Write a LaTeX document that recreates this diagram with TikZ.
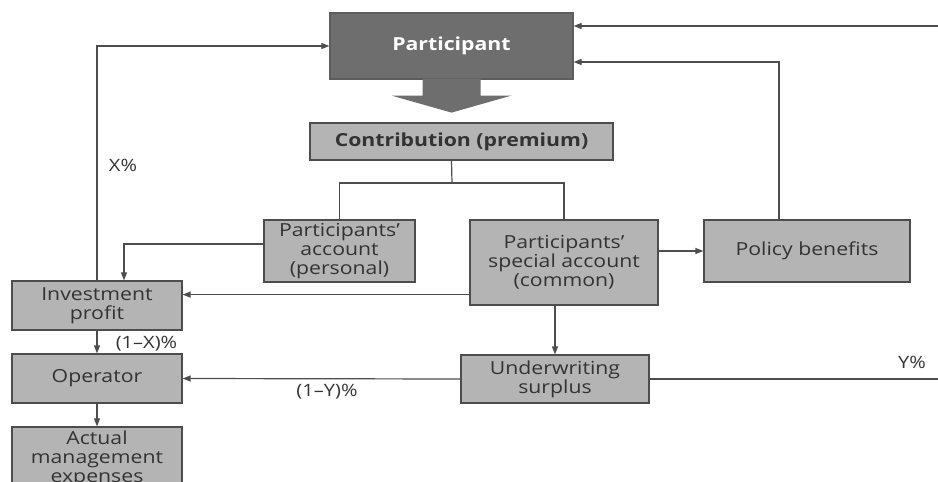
\documentclass[tikz,border=0pt]{standalone}
\usepackage{fontspec}
\setmainfont{Open Sans}[FakeStretch=1.18]
\usetikzlibrary{positioning, arrows.meta}

\definecolor{boxgray}{HTML}{B4B4B4}
\definecolor{darkbox}{HTML}{6E6E6E}
\definecolor{edgegray}{HTML}{4D4D4D}
\definecolor{inkgray}{HTML}{333333}

\tikzset{
  box/.style={draw=edgegray, fill=boxgray, line width=1.2pt, inner sep=0pt,
    align=center, text=inkgray, font=\fontsize{18}{19}\selectfont},
  flow/.style={draw=edgegray, line width=1.2pt, -{Triangle[length=8pt,width=6pt]}},
  link/.style={draw=edgegray, line width=1.2pt},
  pct/.style={text=inkgray, font=\fontsize{17}{19}\selectfont, inner sep=0pt},
}

\begin{document}
\begin{tikzpicture}[x=1pt, y=-1pt]
    \useasboundingbox (0,0) rectangle (938,482);

    % top: participant with its big arrow
    \node[box, fill=darkbox, draw=darkbox!85!black, text=white,
          font=\bfseries\fontsize{18}{19}\selectfont,
          minimum width=243pt, minimum height=66pt] (part) at (451.5,46) {Participant};
    \fill[darkbox] (part.south) ++(-29,-1) -- ++(0,17) -- ++(-31,0) -- ++(60,17)
        -- ++(60,-17) -- ++(-31,0) -- ++(0,-17) -- cycle;

    \node[box, font=\bfseries\fontsize{18}{19}\selectfont,
          minimum width=303pt, minimum height=37pt] (contrib) at (461.5,141.5) {Contribution (premium)};

    % accounts
    \node[box, minimum width=151pt, minimum height=62pt] (personal) at (339.5,251)
        {Participants'\\account\\(personal)};
    \node[box, minimum width=188pt, minimum height=85pt] (common) at (564,262.5)
        {Participants'\\special account\\(common)};
    \node[box, minimum width=206pt, minimum height=62pt] (policy) at (807,251) {Policy benefits};

    % left column
    \node[box, minimum width=170pt, minimum height=49pt] (invest) at (97,305.5) {Investment\\profit};
    \node[box, minimum width=170pt, minimum height=49pt] (oper) at (97,378.5) {Operator};
    \node[box, minimum width=170pt, minimum height=63pt] (expense) at (97,458.5)
        {Actual\\management\\expenses};

    \node[box, minimum width=188pt, minimum height=48pt] (surplus) at (555,379) {Underwriting\\surplus};

    % contribution split
    \coordinate (split) at (452,183);
    \draw[link] (part.center |- contrib.south) -- (split);
    \draw[link] (split) -| (personal.north);
    \draw[link] (split) -| (common.north);

    % flows
    \draw[flow] (invest.north) |- (part.west);
    \draw[flow] ([yshift=7pt]personal.west) -| ([xshift=27pt]invest.north);
    \coordinate (cw) at ([yshift=11pt]common.south west);
    \draw[flow] (cw) -- (cw -| invest.east);
    \draw[flow] (common.east |- policy.west) -- (policy.west);
    \draw[flow] ([xshift=-28pt]policy.north) |- ([yshift=-16pt]part.east);
    \coordinate (inR) at (938,26);
    \draw[flow] (inR) -- (inR -| part.east);
    \draw[flow] (common.south -| surplus.north) -- (surplus.north);
    \draw[flow] (surplus.west) -- (oper.east);
    \coordinate (outR) at (938,379);
    \draw[link] (surplus.east) -- (outR);
    \draw[flow] (invest.south) -- (oper.north);
    \draw[flow] (oper.south) -- (expense.north);

    % shares
    \node[pct] (xpc) at (123,165) {X\%};
    \node[pct] (xrest) at (146.5,344) {(1--X)\%};
    \node[pct] (yrest) at (327,392) {(1--Y)\%};
    \node[pct] (ypc) at (912,362) {Y\%};
\end{tikzpicture}
\end{document}
